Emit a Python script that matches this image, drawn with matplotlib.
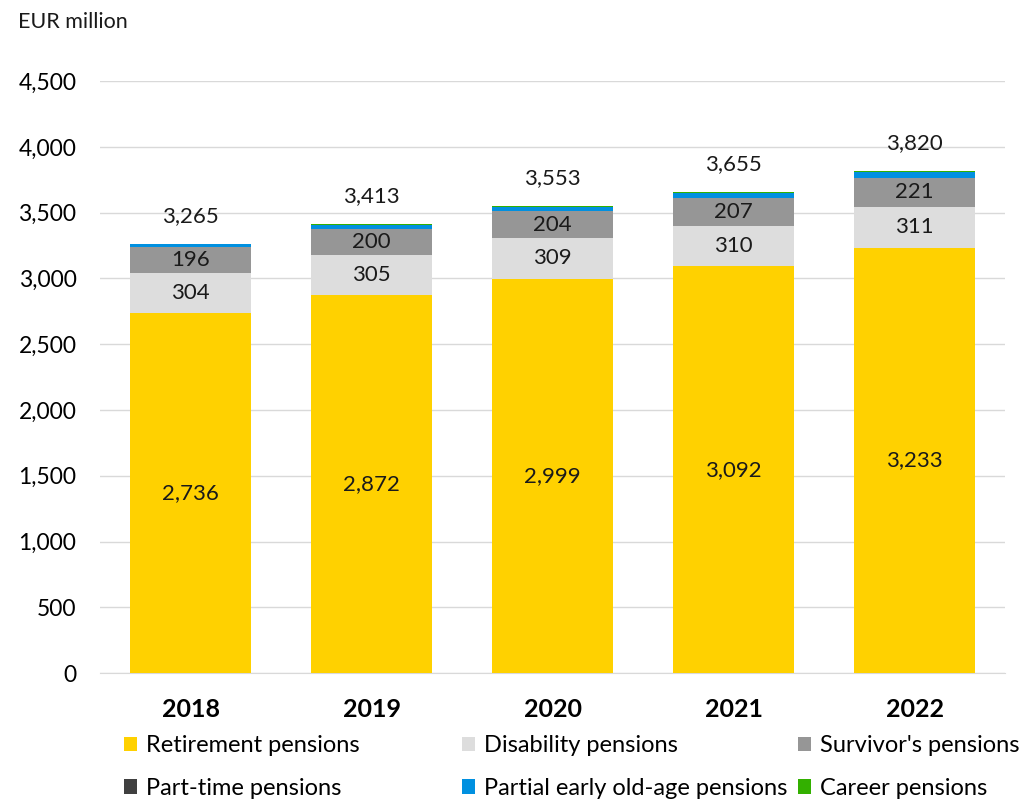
import matplotlib.pyplot as plt
import numpy as np

plt.rcParams["font.family"] = ["Lato", "DejaVu Sans"]

years = ["2018", "2019", "2020", "2021", "2022"]
retirement = [2736, 2872, 2999, 3092, 3233]
disability = [304, 305, 309, 310, 311]
survivor = [196, 200, 204, 207, 221]
part_time = [3, 2, 1, 1, 0]
partial_early = [22, 28, 33, 37, 45]
career = [4, 6, 7, 8, 10]
totals = [3265, 3413, 3553, 3655, 3820]

series = [
    ("Retirement pensions", retirement, "#FFD100"),
    ("Disability pensions", disability, "#DDDDDD"),
    ("Survivor's pensions", survivor, "#969696"),
    ("Part-time pensions", part_time, "#404040"),
    ("Partial early old-age pensions", partial_early, "#0090E0"),
    ("Career pensions", career, "#33B000"),
]

fig = plt.figure(figsize=(10.25, 8.02), dpi=100)
ax = fig.add_axes([0.0976, 0.1608, 0.8829, 0.738])

x = np.arange(len(years))
bottom = np.zeros(len(years))
handles = {}
for name, vals, color in series:
    vals = np.array(vals, dtype=float)
    bars = ax.bar(x, vals, 0.67, bottom=bottom, color=color, label=name, zorder=3)
    handles[name] = bars
    # value labels only for the three large segments
    if name in ("Retirement pensions", "Disability pensions", "Survivor's pensions"):
        for xi, b, v in zip(x, bottom, vals):
            ax.text(xi, b + v / 2, f"{int(v):,}", ha="center", va="center",
                    fontsize=16, color="#1a1a1a", zorder=4)
    bottom += vals

for xi, b, t in zip(x, bottom, totals):
    ax.text(xi, b + 135, f"{t:,}", ha="center", va="bottom", fontsize=16, color="#1a1a1a")

ax.set_xlim(-0.5, len(years) - 0.5)
ax.set_ylim(0, 4500)
ax.set_yticks(np.arange(0, 4501, 500))
ax.set_yticklabels([f"{v:,}" for v in range(0, 4501, 500)], fontsize=16.5)
ax.set_xticks(x)
ax.set_xticklabels(years, fontsize=18, fontweight="bold")
ax.yaxis.grid(True, color="#D9D9D9", linewidth=1, zorder=0)
ax.tick_params(axis="x", length=0, pad=18)
ax.tick_params(axis="y", length=0, pad=17)
for s in ["top", "right", "left"]:
    ax.spines[s].set_visible(False)
ax.spines["bottom"].set_color("#D9D9D9")

fig.text(0.018, 0.972, "EUR million", fontsize=15.5, va="center", ha="left", color="#1a1a1a")

# legend in three separately placed columns
columns = [
    (124, ["Retirement pensions", "Part-time pensions"]),
    (462, ["Disability pensions", "Partial early old-age pensions"]),
    (798, ["Survivor's pensions", "Career pensions"]),
]
for xpix, names in columns:
    fig.legend([handles[n] for n in names], names, loc="center left",
               bbox_to_anchor=(xpix / 1025, (802 - 767) / 802),
               frameon=False, fontsize=17, borderpad=0, borderaxespad=0,
               handlelength=0.57, handleheight=0.57, handletextpad=0.36,
               labelspacing=0.9)

fig.savefig("out.png", dpi=100)
